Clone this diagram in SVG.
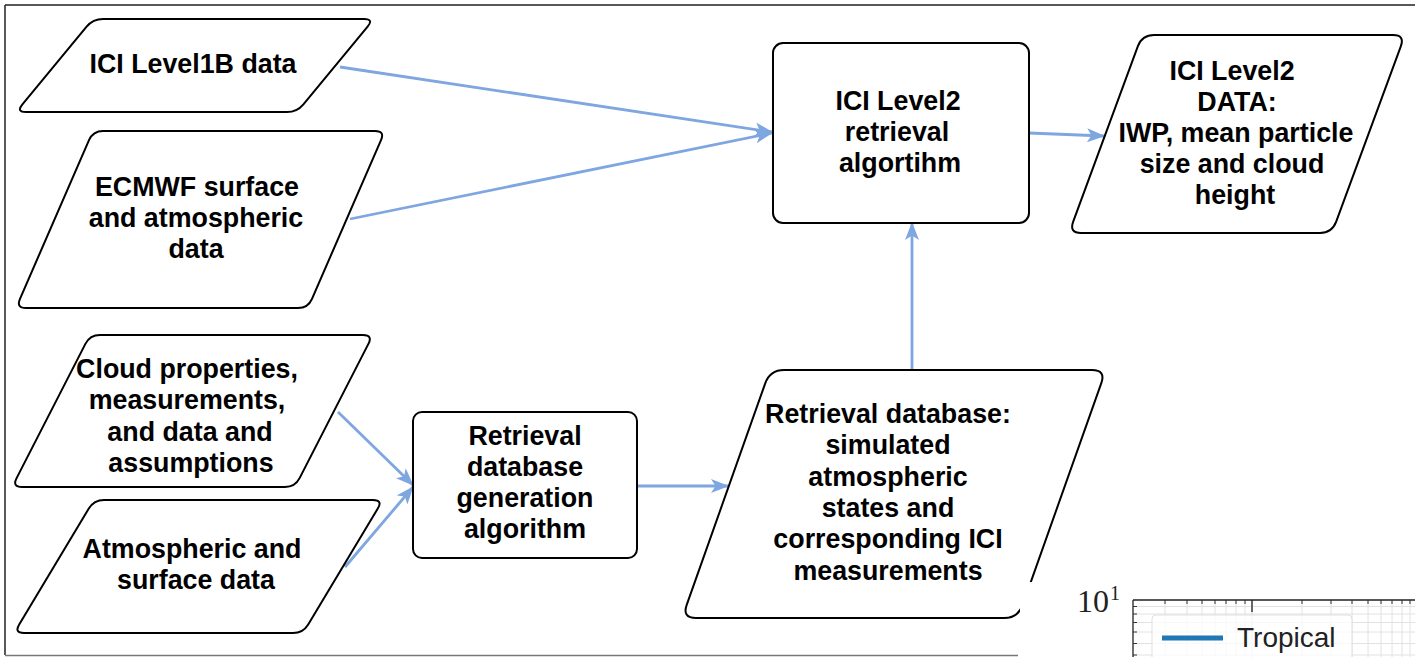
<svg xmlns="http://www.w3.org/2000/svg" width="1415" height="657" viewBox="0 0 1415 657">
  <style>
    .shape { fill: #ffffff; stroke: #000000; stroke-width: 2; }
    .lbl { font-family: "Liberation Sans", Arial, sans-serif; font-weight: bold; font-size: 26.8px; fill: #000000; text-anchor: middle; }
    .conn { fill: none; stroke: #7ea6e0; stroke-width: 2.8; }
    .frame { fill: none; stroke: #222222; stroke-width: 1.5; }
    .grid { stroke: #e2e2e2; stroke-width: 1; }
    .tick { stroke: #333333; stroke-width: 1; }
  </style>
  <defs>
    <marker id="arr" markerUnits="userSpaceOnUse" markerWidth="18" markerHeight="14" viewBox="0 0 18 14" refX="17" refY="7" orient="auto">
      <path d="M0,0 L18,7 L0,14 L4.5,7 Z" fill="#7ea6e0"/>
    </marker>
  </defs>
  <rect width="1415" height="657" fill="#ffffff"/>

  <g id="frame">
    <path class="frame" d="M5,5 H1415 M5,5 V655"/>
    <path d="M5,655.5 H1018" stroke="#777777" stroke-width="1.5" fill="none"/>
  </g>

  <g id="connectors">
    <path class="conn" d="M340,67 L772,132" marker-end="url(#arr)"/>
    <path class="conn" d="M350,219 L772,133" marker-end="url(#arr)"/>
    <path class="conn" d="M1029,133 L1104,136" marker-end="url(#arr)"/>
    <path class="conn" d="M338,412 L413,485" marker-end="url(#arr)"/>
    <path class="conn" d="M345,567 L413,487" marker-end="url(#arr)"/>
    <path class="conn" d="M637,486 L728,486" marker-end="url(#arr)"/>
    <path class="conn" d="M912,370 L912,223" marker-end="url(#arr)"/>
  </g>

  <g id="node-l1b">
    <path class="shape" d="M103,19 L364,19 Q374,19 367.6,26.7 L303.4,104.3 Q297,112 287,112 L26,112 Q16,112 22.4,104.3 L86.6,26.7 Q93,19 103,19 Z"/>
    <text class="lbl" x="193" y="73">ICI Level1B data</text>
  </g>

  <g id="node-ecmwf">
    <path class="shape" d="M103,131 L375,131 Q385,131 381,140.2 L312,298.8 Q308,308 298,308 L26,308 Q16,308 20,298.8 L89,140.2 Q93,131 103,131 Z"/>
    <text class="lbl" x="197" y="196">ECMWF surface</text>
    <text class="lbl" x="196" y="227">and atmospheric</text>
    <text class="lbl" x="196" y="258">data</text>
  </g>

  <g id="node-cloud">
    <path class="shape" d="M100,335 L363,335 Q373,335 368.4,343.9 L299.6,478.1 Q295,487 285,487 L22,487 Q12,487 16.6,478.1 L85.4,343.9 Q90,335 100,335 Z"/>
    <text class="lbl" x="187" y="378">Cloud properties,</text>
    <text class="lbl" x="187" y="409">measurements,</text>
    <text class="lbl" x="190" y="441">and data and</text>
    <text class="lbl" x="191" y="472">assumptions</text>
  </g>

  <g id="node-atmos">
    <path class="shape" d="M104,500 L373,500 Q383,500 377.8,508.6 L308.2,624.4 Q303,633 293,633 L24,633 Q14,633 19.2,624.4 L88.8,508.6 Q94,500 104,500 Z"/>
    <text class="lbl" x="192" y="558">Atmospheric and</text>
    <text class="lbl" x="196" y="589">surface data</text>
  </g>

  <g id="node-gen">
    <rect class="shape" x="413" y="412" width="224" height="146" rx="9"/>
    <text class="lbl" x="525" y="445">Retrieval</text>
    <text class="lbl" x="525" y="476">database</text>
    <text class="lbl" x="525" y="507">generation</text>
    <text class="lbl" x="525" y="538">algorithm</text>
  </g>

  <g id="node-l2alg">
    <rect class="shape" x="773" y="43" width="256" height="180" rx="10"/>
    <text class="lbl" x="898" y="110">ICI Level2</text>
    <text class="lbl" x="897" y="141">retrieval</text>
    <text class="lbl" x="900" y="172">algortihm</text>
  </g>

  <g id="node-l2data">
    <path class="shape" d="M1154,35 L1393,35 Q1405,35 1400.8,46.3 L1336.2,221.7 Q1332,233 1320,233 L1081,233 Q1069,233 1073.2,221.7 L1137.8,46.3 Q1142,35 1154,35 Z"/>
    <text class="lbl" x="1232" y="80">ICI Level2</text>
    <text class="lbl" x="1237" y="111">DATA:</text>
    <text class="lbl" x="1236" y="142">IWP, mean particle</text>
    <text class="lbl" x="1232" y="173">size and cloud</text>
    <text class="lbl" x="1235" y="204">height</text>
  </g>

  <g id="node-db">
    <path class="shape" d="M784,370 L1092,370 Q1106,370 1101.3,383.2 L1022.7,604.8 Q1018,618 1004,618 L696,618 Q682,618 686.7,604.8 L765.3,383.2 Q770,370 784,370 Z"/>
    <text class="lbl" x="888" y="423">Retrieval database:</text>
    <text class="lbl" x="888" y="454">simulated</text>
    <text class="lbl" x="888" y="486">atmospheric</text>
    <text class="lbl" x="888" y="517">states and</text>
    <text class="lbl" x="888" y="548">corresponding ICI</text>
    <text class="lbl" x="888" y="580">measurements</text>
  </g>

  <g id="plot-fragment">
    <rect x="1020" y="582" width="395" height="75" fill="#ffffff"/>
    <path class="grid" d="M1165,600 V657 M1187,600 V657 M1202,600 V657 M1215,600 V657 M1226,600 V657 M1236,600 V657 M1245,600 V657 M1302,600 V657 M1331,600 V657 M1352,600 V657 M1368,600 V657 M1381,600 V657 M1392,600 V657 M1402,600 V657 M1410,600 V657"/>
    <path d="M1252,600 V657" stroke="#d0d0d0" stroke-width="1"/>
    <path class="grid" d="M1133,606.5 H1415 M1133,614 H1415 M1133,622.5 H1415 M1133,632 H1415 M1133,643.5 H1415 M1133,655 H1415"/>
    <rect x="1152" y="615" width="200" height="50" rx="4" fill="#ffffff" fill-opacity="0.75" stroke="#e0e0e0" stroke-width="1"/>
    <path d="M1133,600 H1415 M1133,600 V657" stroke="#222222" stroke-width="1.3" fill="none"/>
    <path class="tick" d="M1165,600 v4 M1187,600 v4 M1202,600 v4 M1215,600 v4 M1226,600 v4 M1236,600 v4 M1245,600 v4 M1302,600 v4 M1331,600 v4 M1352,600 v4 M1368,600 v4 M1381,600 v4 M1392,600 v4 M1402,600 v4 M1410,600 v4"/>
    <path d="M1252,600 v12" stroke="#222222" stroke-width="1.3"/>
    <path class="tick" d="M1133,606.5 h4 M1133,614 h4 M1133,622.5 h4 M1133,632 h4 M1133,643.5 h4 M1133,655 h4"/>
    <path d="M1162,638 H1223" stroke="#1f77b4" stroke-width="5"/>
    <text x="1237" y="647" font-family="Liberation Sans, Arial, sans-serif" font-size="28" fill="#222222">Tropical</text>
    <text x="1077" y="612" font-family="Liberation Serif, Times New Roman, serif" font-size="32" fill="#222222">10</text>
    <text x="1110" y="600" font-family="Liberation Serif, Times New Roman, serif" font-size="20" fill="#222222">1</text>
  </g>
</svg>
